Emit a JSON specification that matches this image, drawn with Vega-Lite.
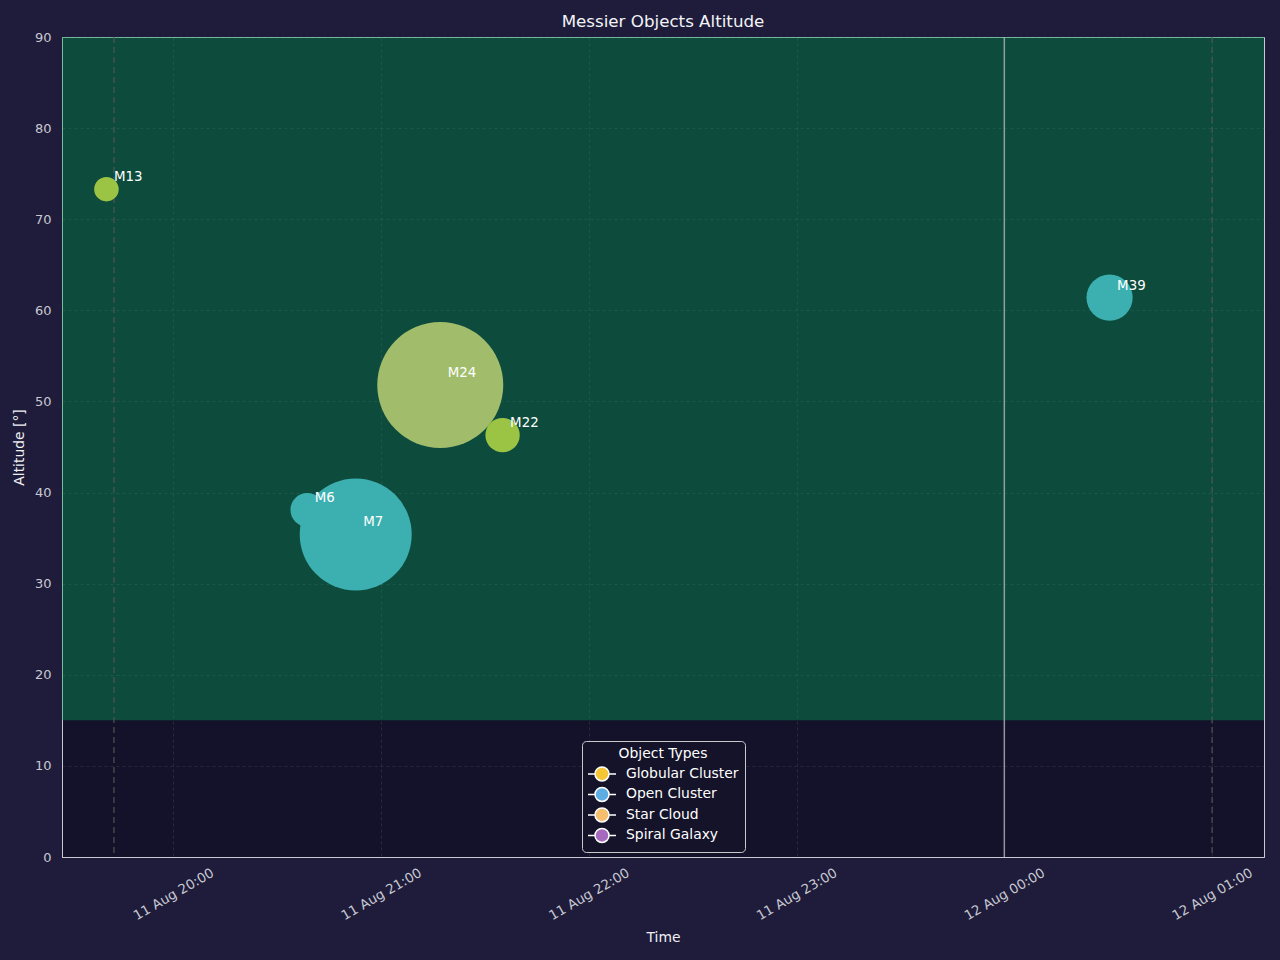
{
  "$schema": "https://vega.github.io/schema/vega-lite/v6.json",
  "title": {"text": "Messier Objects Altitude", "color": "#f4f4f8", "fontSize": 16.7, "fontWeight": "normal", "offset": 0},
  "width": 1202,
  "height": 820,
  "autosize": {"type": "none"},
  "padding": {"left": 62, "top": 37, "right": 16, "bottom": 103},
  "background": "#1e1c3a",
  "view": {"fill": "#13122a", "stroke": "#c8ccd0", "strokeWidth": 1},
  "datasets": {
    "objects": [
      {"name": "M13", "type": "Globular Cluster", "time": "2024-08-11T19:40:40Z", "altitude": 73.3, "size_arcmin": 17.5},
      {"name": "M6", "type": "Open Cluster", "time": "2024-08-11T20:38:40Z", "altitude": 38.1, "size_arcmin": 24},
      {"name": "M7", "type": "Open Cluster", "time": "2024-08-11T20:52:40Z", "altitude": 35.4, "size_arcmin": 80},
      {"name": "M24", "type": "Star Cloud", "time": "2024-08-11T21:17:05Z", "altitude": 51.8, "size_arcmin": 90},
      {"name": "M22", "type": "Globular Cluster", "time": "2024-08-11T21:35:05Z", "altitude": 46.3, "size_arcmin": 24.5},
      {"name": "M39", "type": "Open Cluster", "time": "2024-08-12T00:30:24Z", "altitude": 61.4, "size_arcmin": 33}
    ]
  },
  "config": {
    "font": "DejaVu Sans",
    "view": {"fill": "#13122a", "stroke": "#c8ccd0", "strokeWidth": 1},
    "axis": {
      "labelColor": "#c8c8d2",
      "labelFontSize": 13,
      "titleColor": "#f0f0f4",
      "titleFontSize": 13.9,
      "titleFontWeight": "normal",
      "ticks": false,
      "domainColor": "#c8ccd0",
      "domainWidth": 1,
      "gridColor": "#7a7a8a",
      "gridOpacity": 0.35,
      "gridDash": [3, 3],
      "gridWidth": 0.6
    },
    "legend": {
      "titleColor": "#ffffff",
      "titleFontSize": 13.9,
      "titleFontWeight": "normal",
      "titleAnchor": "middle",
      "titleAlign": "center",
      "titlePadding": 5,
      "labelColor": "#ffffff",
      "labelFontSize": 13.9,
      "fillColor": "#141329",
      "strokeColor": "#c8c8c8",
      "cornerRadius": 4,
      "padding": 6,
      "rowPadding": 0.5,
      "labelOffset": 16,
      "symbolOffset": 6
    }
  },
  "layer": [
    {
      "data": {"values": [{"zone": "observable", "low": 15, "high": 90}]},
      "mark": {"type": "rect", "fill": "#04a357", "opacity": 0.4},
      "encoding": {
        "y": {
          "field": "low",
          "type": "quantitative",
          "scale": {"domain": [0, 90], "nice": false},
          "title": "Altitude [°]",
          "axis": {"values": [0, 10, 20, 30, 40, 50, 60, 70, 80, 90], "labelPadding": 11, "titlePadding": 8, "grid": true}
        },
        "y2": {"field": "high"}
      }
    },
    {
      "data": {"values": [{"event": "dusk", "time": "2024-08-11T19:42:50Z"}, {"event": "end", "time": "2024-08-12T01:00:00Z"}]},
      "mark": {"type": "rule", "color": "#555555", "opacity": 0.75, "strokeDash": [6, 4], "strokeWidth": 1.5},
      "encoding": {
        "x": {
          "field": "time",
          "type": "temporal",
          "title": "Time",
          "scale": {
            "type": "utc",
            "nice": false,
            "domain": [
              {"year": 2024, "month": 8, "date": 11, "hours": 19, "minutes": 27, "seconds": 50, "utc": true},
              {"year": 2024, "month": 8, "date": 12, "hours": 1, "minutes": 15, "utc": true}
            ]
          },
          "axis": {
            "values": [
              {"year": 2024, "month": 8, "date": 11, "hours": 20, "utc": true},
              {"year": 2024, "month": 8, "date": 11, "hours": 21, "utc": true},
              {"year": 2024, "month": 8, "date": 11, "hours": 22, "utc": true},
              {"year": 2024, "month": 8, "date": 11, "hours": 23, "utc": true},
              {"year": 2024, "month": 8, "date": 12, "hours": 0, "utc": true},
              {"year": 2024, "month": 8, "date": 12, "hours": 1, "utc": true}
            ],
            "format": "%d %b %H:%M",
            "labelAngle": -30,
            "labelAlign": "center",
            "labelBaseline": "middle",
            "labelPadding": 37,
            "labelFontSize": 13.4,
            "labelFlush": false,
            "labelOverlap": false,
            "titleY": 80,
            "titleBaseline": "middle",
            "grid": true
          }
        }
      }
    },
    {
      "data": {"values": [{"event": "midnight", "time": "2024-08-12T00:00:00Z"}]},
      "mark": {"type": "rule", "color": "#b0b4b8", "opacity": 0.8, "strokeWidth": 1.5},
      "encoding": {
        "x": {"field": "time", "type": "temporal", "title": "Time"}
      }
    },
    {
      "data": {"name": "objects"},
      "mark": {"type": "circle", "opacity": 1},
      "encoding": {
        "x": {"field": "time", "type": "temporal", "title": "Time"},
        "y": {"field": "altitude", "type": "quantitative", "title": "Altitude [°]"},
        "size": {
          "field": "size_arcmin",
          "type": "quantitative",
          "scale": {"type": "pow", "exponent": 2, "domain": [0, 100], "range": [0, 19600]},
          "legend": null
        },
        "fill": {
          "field": "type",
          "type": "nominal",
          "scale": {"domain": ["Globular Cluster", "Open Cluster", "Star Cloud"], "range": ["#9cc444", "#3cb0b0", "#a1bd6b"]},
          "legend": null
        }
      }
    },
    {
      "data": {"name": "objects"},
      "mark": {"type": "text", "color": "#ffffff", "fontSize": 13.4, "align": "left", "baseline": "middle", "dx": 7.5, "dy": -12},
      "encoding": {
        "x": {"field": "time", "type": "temporal", "title": "Time"},
        "y": {"field": "altitude", "type": "quantitative", "title": "Altitude [°]"},
        "text": {"field": "name"}
      }
    },
    {
      "data": {"values": [{"type": "Globular Cluster"}, {"type": "Open Cluster"}, {"type": "Star Cloud"}, {"type": "Spiral Galaxy"}]},
      "mark": {"type": "point", "filled": true, "opacity": 0},
      "encoding": {
        "color": {
          "field": "type",
          "type": "nominal",
          "scale": {
            "domain": ["Globular Cluster", "Open Cluster", "Star Cloud", "Spiral Galaxy"],
            "range": ["#f4c534", "#5dade2", "#f5bf6e", "#a569bd"]
          },
          "legend": {
            "title": "Object Types",
            "orient": "none",
            "legendX": 520,
            "legendY": 704,
            "symbolType": "M-2,0L-1,0M1,0L2,0M-1,0A1,1,0,1,0,1,0A1,1,0,1,0,-1,0Z",
            "symbolSize": 196,
            "symbolOpacity": 1,
            "symbolStrokeColor": "#ffffff",
            "symbolStrokeWidth": 1.5,
            "encode": {
              "symbols": {"update": {"stroke": {"value": "#ffffff"}, "strokeWidth": {"value": 1.5}, "opacity": {"value": 1}}}
            }
          }
        }
      }
    }
  ]
}
